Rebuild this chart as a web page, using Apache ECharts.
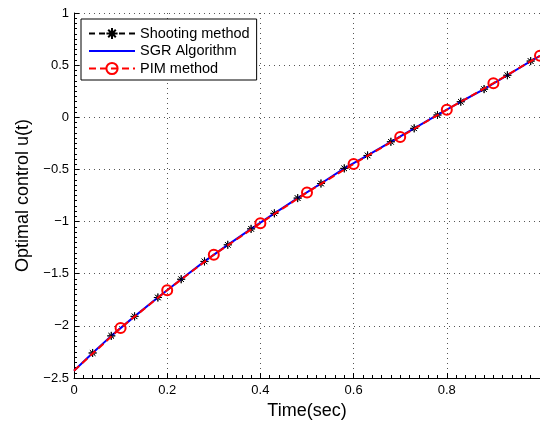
<!DOCTYPE html>
<html>
<head>
<meta charset="utf-8">
<script src="https://cdn.jsdelivr.net/npm/echarts@6/dist/echarts.min.js"></script>
<style>html,body{margin:0;padding:0;background:#fff}#c{width:540px;height:425px}</style>
</head>
<body>
<div id="c"></div>
<script>
// Shooting method (black dashed with asterisks)
const shootX = [0, 0.04, 0.08, 0.13, 0.18, 0.23, 0.28, 0.33, 0.38, 0.43, 0.48, 0.53, 0.58, 0.63, 0.68, 0.73, 0.78, 0.83, 0.88, 0.93, 0.98];
const shootU = [-2.43, -2.26, -2.096, -1.909, -1.728, -1.553, -1.382, -1.223, -1.070, -0.921, -0.775, -0.635, -0.490, -0.366, -0.235, -0.106, 0.022, 0.149, 0.270, 0.403, 0.539];
// SGR algorithm (blue solid)
const sgrX = [0, 0.04, 0.08, 0.13, 0.18, 0.23, 0.28, 0.33, 0.38, 0.43, 0.48, 0.53, 0.58, 0.63, 0.68, 0.73, 0.78, 0.83, 0.88, 0.93, 0.98, 1.0];
const sgrU = [-2.43, -2.26, -2.096, -1.909, -1.728, -1.553, -1.382, -1.223, -1.070, -0.921, -0.775, -0.635, -0.490, -0.366, -0.235, -0.106, 0.022, 0.149, 0.270, 0.403, 0.539, 0.59];
// PIM method (red dashed with circles)
const pimX = [0, 0.1, 0.2, 0.3, 0.4, 0.5, 0.6, 0.7, 0.8, 0.9, 1.0];
const pimU = [-2.43, -2.02, -1.658, -1.318, -1.016, -0.721, -0.448, -0.188, 0.072, 0.327, 0.59];
const xTicks = [0, 0.2, 0.4, 0.6, 0.8, 1];
const yTicks = [-2.5, -2, -1.5, -1, -0.5, 0, 0.5, 1];
const seriesNames = ['Shooting method', 'SGR Algorithm', 'PIM method'];

const FONT = 'Liberation Sans, Arial, Helvetica, sans-serif';
const star = 'path://M5,0L5,10M0,5L10,5M1.6,1.6L8.4,8.4M1.6,8.4L8.4,1.6';
const fmt = v => String(v).replace('-', '\u2212');

function pts(xs, ys, firstNoSym) {
  return xs.map((x, i) => {
    const o = { value: [x, ys[i]] };
    if (firstNoSym && i === 0) o.symbol = 'none';
    return o;
  });
}

const chart = echarts.init(document.getElementById('c'), null, { renderer: 'canvas' });
chart.setOption({
  animation: false,
  backgroundColor: '#fff',
  textStyle: { fontFamily: FONT },
  grid: { left: 74, top: 13, right: -3, bottom: 45, containLabel: false },
  legend: {
    orient: 'vertical',
    left: 81, top: 19,
    backgroundColor: '#fff',
    borderColor: '#000', borderWidth: 1, borderRadius: 0,
    padding: [7, 7, 4, 7],
    itemWidth: 46, itemHeight: 14, itemGap: 2.5,
    textStyle: { fontFamily: FONT, fontSize: 14.5, color: '#000' },
    data: [
      { name: seriesNames[0] },
      { name: seriesNames[1], itemStyle: { color: 'transparent', borderColor: 'transparent', borderWidth: 0, opacity: 0 } },
      { name: seriesNames[2] }
    ]
  },
  xAxis: {
    type: 'value', min: xTicks[0], max: xTicks[xTicks.length - 1], interval: 0.2,
    name: 'Time(sec)', nameLocation: 'middle', nameGap: 24,
    nameTextStyle: { fontFamily: FONT, fontSize: 18, color: '#000' },
    axisLine: { show: true, onZero: false, lineStyle: { color: '#000', width: 1 } },
    axisTick: { show: true, inside: true, length: 5, lineStyle: { color: '#000' } },
    minorTick: { show: true, splitNumber: 10, length: 3, lineStyle: { color: '#000' } },
    axisLabel: { showMaxLabel: false, fontFamily: FONT, fontSize: 13, color: '#000', margin: 6, formatter: fmt },
    splitLine: { show: true, lineStyle: { color: '#555', type: [1, 4], width: 1 } }
  },
  yAxis: {
    type: 'value', min: yTicks[0], max: yTicks[yTicks.length - 1], interval: 0.5,
    name: 'Optimal control u(t)', nameLocation: 'middle', nameGap: 40,
    nameTextStyle: { fontFamily: FONT, fontSize: 18, color: '#000' },
    axisLine: { show: true, onZero: false, lineStyle: { color: '#000', width: 1 } },
    axisTick: { show: true, inside: true, length: 5, lineStyle: { color: '#000' } },
    minorTick: { show: true, splitNumber: 10, length: 3, lineStyle: { color: '#000' } },
    axisLabel: { fontFamily: FONT, fontSize: 13, color: '#000', margin: 5, formatter: fmt },
    splitLine: { show: true, lineStyle: { color: '#555', type: [1, 4], width: 1 } }
  },
  series: [
    {
      name: seriesNames[0], type: 'line', z: 1,
      data: pts(shootX, shootU, true),
      symbol: star, symbolSize: 8, showAllSymbol: true,
      lineStyle: { color: '#000', width: 1, type: [6, 4] },
      itemStyle: { color: '#000', borderColor: '#000', borderWidth: 1 },
      emphasis: { disabled: true }
    },
    {
      name: seriesNames[1], type: 'line', z: 2,
      data: pts(sgrX, sgrU, false),
      symbol: 'none',
      lineStyle: { color: '#0000ff', width: 2 },
      itemStyle: { color: '#0000ff' },
      emphasis: { disabled: true }
    },
    {
      name: seriesNames[2], type: 'line', z: 4,
      data: pts(pimX, pimU, true),
      symbol: 'circle', symbolSize: 10, showAllSymbol: true,
      lineStyle: { color: '#ff0000', width: 2, type: [7, 4] },
      itemStyle: { color: 'transparent', borderColor: '#ff0000', borderWidth: 2 },
      emphasis: { disabled: true }
    },
    {
      // asterisk markers of the shooting method drawn above the lines
      name: seriesNames[0] + ' markers', type: 'scatter', z: 3,
      data: shootX.slice(1).map((x, i) => [x, shootU[i + 1]]),
      symbol: star, symbolSize: 8,
      itemStyle: { color: '#000', borderColor: '#000', borderWidth: 1 },
      emphasis: { disabled: true }
    }
  ]
});
</script>
</body>
</html>
